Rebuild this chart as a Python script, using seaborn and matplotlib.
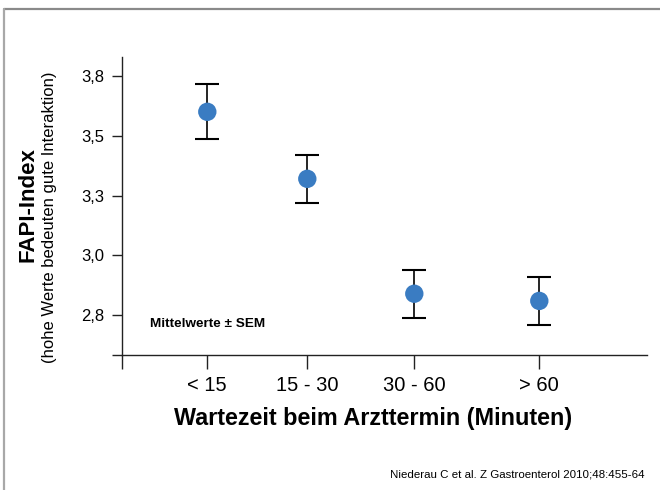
import matplotlib
matplotlib.use("Agg")
import matplotlib.pyplot as plt
import seaborn as sns
import pandas as pd
from matplotlib.lines import Line2D

# ---- data ----
categories = ["< 15", "15 - 30", "30 - 60", "> 60"]
means = [3.60, 3.32, 2.84, 2.81]
sem = [0.115, 0.10, 0.10, 0.10]
group_pos = [0.0, 1.0, 2.07, 3.32]
y_ticks = [2.75, 3.0, 3.25, 3.5, 3.75]
y_tick_labels = ["2,8", "3,0", "3,3", "3,5", "3,8"]

sns.set_theme(style="ticks")
plt.rcParams["font.family"] = ["Liberation Sans", "DejaVu Sans"]
plt.rcParams["text.color"] = "black"
plt.rcParams["xtick.color"] = "black"
plt.rcParams["ytick.color"] = "black"

df = pd.DataFrame({"pos": group_pos, "mean": means, "sem": sem, "cat": categories})

fig = plt.figure(figsize=(6.6, 4.9), dpi=100)
ax = fig.add_axes([122/660, 1-355/490, (647-122)/660, (355-57)/490])

ax.errorbar(df["pos"], df["mean"], yerr=df["sem"], fmt="none", ecolor="black",
            elinewidth=1.2, capsize=8.5, capthick=1.5, zorder=2)
sns.scatterplot(data=df, x="pos", y="mean", ax=ax, s=175, color="#3A7CC2",
                edgecolor="none", zorder=3, legend=False)

ax.set_xlim(-0.853, 4.397)
ax.set_ylim(2.584, 3.829)
ax.set_xticks(group_pos)
ax.set_xticklabels(categories)
ax.set_yticks(y_ticks)
ax.set_yticklabels(y_tick_labels)
ax.set_xticks([-0.853], minor=True)
ax.set_yticks([2.584], minor=True)
ax.tick_params(axis="x", which="both", length=10, width=1, color="#222222",
               labelsize=14.5, pad=5, labelcolor="black")
ax.tick_params(axis="y", which="both", length=7, width=1, color="#222222",
               labelsize=12, pad=6, labelcolor="black")
ax.set_xlabel("")
ax.set_ylabel("")
sns.despine(ax=ax)
for s in ["left", "bottom"]:
    ax.spines[s].set_linewidth(1.0)
    ax.spines[s].set_color("#222222")

ax.text(0.053, 0.104, "Mittelwerte ± SEM", transform=ax.transAxes,
        fontsize=9.7, fontweight="bold", va="center", ha="left", color="black")

fig.text(373/660, 1-418/490, "Wartezeit beim Arzttermin (Minuten)",
         fontsize=16.8, fontweight="bold", ha="center", va="center", color="black")
fig.text(28/660, 1-205/490, "FAPI-Index", rotation=90, fontsize=16,
         fontweight="bold", ha="center", va="center", color="black")
fig.text(50/660, 1-217/490, "(hohe Werte bedeuten gute Interaktion)",
         rotation=90, fontsize=12, ha="center", va="center", color="black")
fig.text(645/660, 1-474/490, "Niederau C et al. Z Gastroenterol 2010;48:455-64",
         fontsize=8.25, ha="right", va="center", color="black")

# slide frame (top and left)
fig.add_artist(Line2D([3.5/660, 1], [1-9/490, 1-9/490], transform=fig.transFigure,
                      color="#8a8a8a", linewidth=1.6))
fig.add_artist(Line2D([3.5/660, 3.5/660], [0, 1-9/490], transform=fig.transFigure,
                      color="#a8a8a8", linewidth=1.6))

fig.savefig("out.png", dpi=100)
